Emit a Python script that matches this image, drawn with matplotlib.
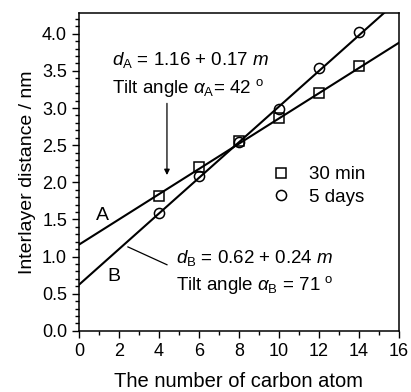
import numpy as np
import matplotlib
matplotlib.use('Agg')
import matplotlib.pyplot as plt
from matplotlib.ticker import MultipleLocator

plt.rcParams['font.family'] = 'Liberation Sans'
plt.rcParams['mathtext.fontset'] = 'custom'
plt.rcParams['mathtext.rm'] = 'Liberation Sans'
plt.rcParams['mathtext.it'] = 'Liberation Sans:italic'

# data
carbon = [4, 6, 8, 10, 12, 14]
d_30min = [1.82, 2.20, 2.56, 2.87, 3.20, 3.57]
d_5days = [1.59, 2.09, 2.54, 2.99, 3.54, 4.02]

# fitted lines (intercept, slope) as written on the chart
fit_A = [1.16, 0.17]
fit_B = [0.62, 0.24]
fit_x = [0, 16]

fig = plt.figure(figsize=(4.11, 3.92), dpi=100)
ax = fig.add_axes([0.192, 0.156, 0.779, 0.811])

xs = np.array(fit_x)
ax.plot(xs, fit_A[0] + fit_A[1] * xs, color='black', lw=1.5)
ax.plot(xs, fit_B[0] + fit_B[1] * xs, color='black', lw=1.5)

ax.plot(carbon, d_30min, 's', ms=6.6, mfc='none', mec='black', mew=1.1, label='30 min')
ax.plot(carbon, d_5days, 'o', ms=7.3, mfc='none', mec='black', mew=1.1, label='5 days')

ax.set_xlim(0, 16)
ax.set_ylim(0, 4.28)
ax.xaxis.set_major_locator(MultipleLocator(2))
ax.xaxis.set_minor_locator(MultipleLocator(1))
ax.yaxis.set_major_locator(MultipleLocator(0.5))
ax.yaxis.set_minor_locator(MultipleLocator(0.1))
ax.yaxis.set_major_formatter(matplotlib.ticker.FormatStrFormatter('%.1f'))
ax.tick_params(which='major', direction='out', length=5, width=1, labelsize=13)
ax.tick_params(which='minor', direction='out', length=3, width=1)
ax.tick_params(top=False, right=False)
for s in ax.spines.values():
    s.set_linewidth(1.1)

ax.set_xlabel('The number of carbon atom', fontsize=14.5, labelpad=9)
ax.set_ylabel('Interlayer distance / nm', fontsize=14, labelpad=4)

ax.legend(loc='center left', bbox_to_anchor=(0.55, 0.456), frameon=False,
          fontsize=13.5, handletextpad=0.5, labelspacing=0.3, borderaxespad=0)

ax.text(1.65, 3.64, r'$d_{\mathrm{A}}$ = 1.16 + 0.17 $m$', fontsize=13.5, va='center')
ax.text(1.65, 3.27, r'Tilt angle $\alpha_{\mathrm{A}}$= 42 $^{\mathrm{o}}$', fontsize=13.5, va='center')
ax.annotate('', xy=(4.4, 2.06), xytext=(4.4, 3.1),
            arrowprops=dict(arrowstyle='-|>', color='black', lw=0.9, mutation_scale=8))

ax.text(4.85, 0.98, r'$d_{\mathrm{B}}$ = 0.62 + 0.24 $m$', fontsize=13.5, va='center')
ax.text(4.85, 0.62, r'Tilt angle $\alpha_{\mathrm{B}}$ = 71 $^{\mathrm{o}}$', fontsize=13.5, va='center')
ax.plot([2.45, 4.4], [1.13, 0.89], color='black', lw=0.9)

ax.text(1.2, 1.55, 'A', fontsize=14, ha='center', va='center')
ax.text(1.75, 0.73, 'B', fontsize=14, ha='center', va='center')

fig.savefig('out.png', dpi=100)
